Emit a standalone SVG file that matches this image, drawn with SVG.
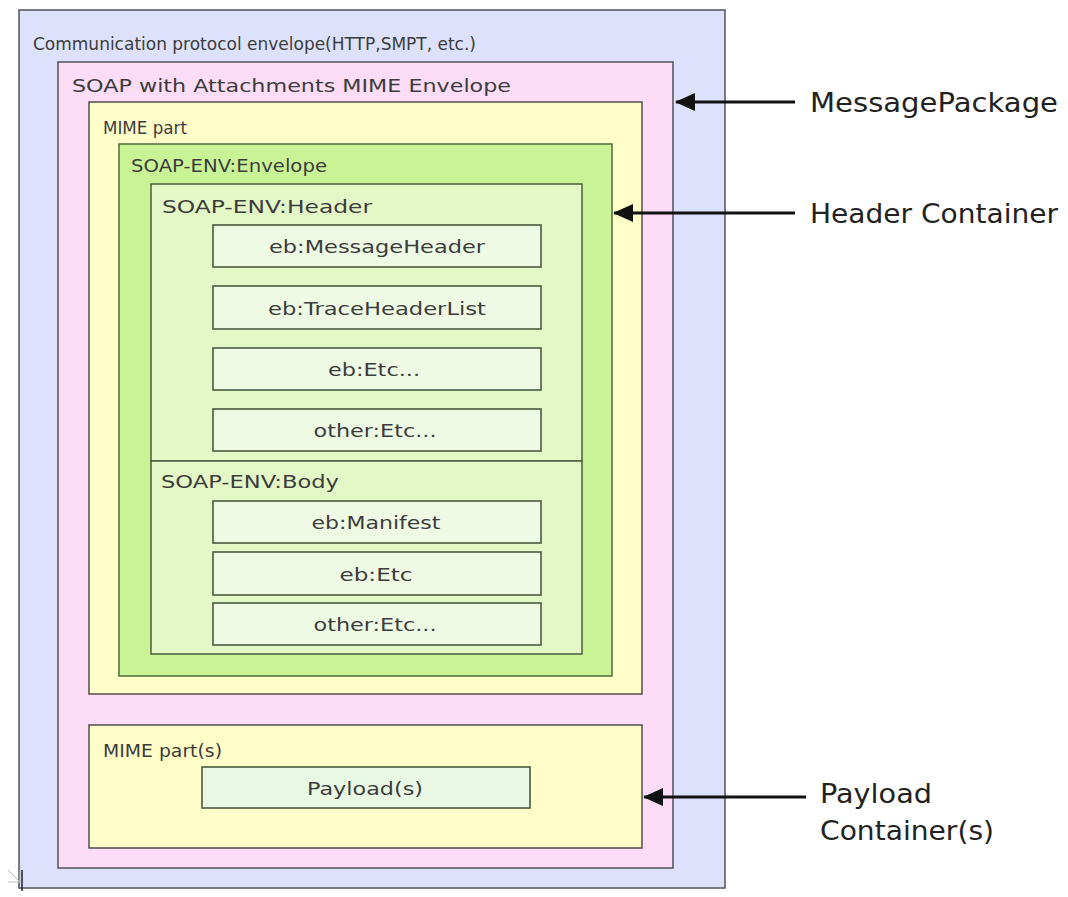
<svg xmlns="http://www.w3.org/2000/svg" width="1068" height="897" viewBox="0 0 1068 897">
<defs>
<style>
.lbl{font-family:"DejaVu Sans","Liberation Sans",sans-serif;font-size:18px;fill:#3c3c3c}
.ctr{text-anchor:middle}
.big{font-family:"DejaVu Sans","Liberation Sans",sans-serif;font-size:26px;fill:#222}
.box{stroke:#4d4d4d;stroke-width:1.5}
.item{fill:#eefae4;stroke:#4a5a40;stroke-width:1.6}
.arr{stroke:#111;stroke-width:3;fill:none}
</style>
<marker id="ah2" markerWidth="20" markerHeight="18" refX="19" refY="9" orient="auto" markerUnits="userSpaceOnUse" viewBox="0 0 20 18">
<path d="M0,0 L20,9 L0,18 Z" fill="#111"/>
</marker>
</defs>
<rect width="1068" height="897" fill="#ffffff"/>

<g id="comm-envelope">
<rect x="19" y="10" width="706" height="878" fill="#dde1fb" stroke="#505058" stroke-width="1.5"/>
<text class="lbl" x="33" y="50" textLength="443" lengthAdjust="spacingAndGlyphs">Communication protocol envelope(HTTP,SMPT, etc.)</text>
</g>

<g id="mime-envelope">
<rect x="58" y="62" width="615" height="806" fill="#fcdcf6" stroke="#55505a" stroke-width="1.5"/>
<text class="lbl" x="72" y="92" textLength="439" lengthAdjust="spacingAndGlyphs">SOAP with Attachments MIME Envelope</text>
</g>

<g id="mime-part">
<rect x="89" y="102" width="553" height="592" fill="#fffdc8" class="box"/>
<text class="lbl" x="103" y="134" textLength="84" lengthAdjust="spacingAndGlyphs">MIME part</text>
</g>

<g id="soap-envelope">
<rect x="119" y="144" width="493" height="532" fill="#c9f495" stroke="#4f6b3c" stroke-width="1.5"/>
<text class="lbl" x="131" y="172" textLength="196" lengthAdjust="spacingAndGlyphs">SOAP-ENV:Envelope</text>
</g>

<g id="soap-header">
<rect x="151" y="184" width="431" height="277" fill="#e3f8c6" stroke="#4a5e3c" stroke-width="1.5"/>
<text class="lbl" x="162" y="213" textLength="210" lengthAdjust="spacingAndGlyphs">SOAP-ENV:Header</text>
</g>

<g id="soap-body">
<rect x="151" y="461" width="431" height="193" fill="#e3f8c6" stroke="#4a5e3c" stroke-width="1.5"/>
<text class="lbl" x="161" y="488" textLength="178" lengthAdjust="spacingAndGlyphs">SOAP-ENV:Body</text>
</g>

<g id="message-header">
<rect x="213" y="225" width="328" height="42" class="item"/>
<text class="lbl ctr" x="377" y="253" textLength="216" lengthAdjust="spacingAndGlyphs">eb:MessageHeader</text>
</g>
<g id="trace-header-list">
<rect x="213" y="286" width="328" height="43" class="item"/>
<text class="lbl ctr" x="377" y="315" textLength="218" lengthAdjust="spacingAndGlyphs">eb:TraceHeaderList</text>
</g>
<g id="eb-etc-header">
<rect x="213" y="348" width="328" height="42" class="item"/>
<text class="lbl ctr" x="374" y="376" textLength="92" lengthAdjust="spacingAndGlyphs">eb:Etc...</text>
</g>
<g id="other-etc-header">
<rect x="213" y="409" width="328" height="42" class="item"/>
<text class="lbl ctr" x="375" y="437" textLength="123" lengthAdjust="spacingAndGlyphs">other:Etc...</text>
</g>

<g id="manifest">
<rect x="213" y="501" width="328" height="42" class="item"/>
<text class="lbl ctr" x="376" y="529" textLength="129" lengthAdjust="spacingAndGlyphs">eb:Manifest</text>
</g>
<g id="eb-etc-body">
<rect x="213" y="552" width="328" height="43" class="item"/>
<text class="lbl ctr" x="376" y="581" textLength="73" lengthAdjust="spacingAndGlyphs">eb:Etc</text>
</g>
<g id="other-etc-body">
<rect x="213" y="603" width="328" height="42" class="item"/>
<text class="lbl ctr" x="375" y="631" textLength="123" lengthAdjust="spacingAndGlyphs">other:Etc...</text>
</g>

<g id="mime-parts">
<rect x="89" y="725" width="553" height="123" fill="#fffdc8" class="box"/>
<text class="lbl" x="103" y="757" textLength="119" lengthAdjust="spacingAndGlyphs">MIME part(s)</text>
</g>
<g id="payloads">
<rect x="202" y="767" width="328" height="41" fill="#e8f8e2" stroke="#4a5a40" stroke-width="1.6"/>
<text class="lbl ctr" x="365" y="795" textLength="116" lengthAdjust="spacingAndGlyphs">Payload(s)</text>
</g>

<g id="connectors">
<line class="arr" x1="795" y1="102" x2="676" y2="102" marker-end="url(#ah2)"/>
<line class="arr" x1="795" y1="213" x2="614" y2="213" marker-end="url(#ah2)"/>
<line class="arr" x1="806" y1="797" x2="644" y2="797" marker-end="url(#ah2)"/>
</g>

<g id="labels">
<text class="big" x="810" y="112" textLength="248" lengthAdjust="spacingAndGlyphs">MessagePackage</text>
<text class="big" x="810" y="223" textLength="248" lengthAdjust="spacingAndGlyphs">Header Container</text>
<text class="big" x="820" y="803" textLength="112" lengthAdjust="spacingAndGlyphs">Payload</text>
<text class="big" x="820" y="840" textLength="174" lengthAdjust="spacingAndGlyphs">Container(s)</text>
</g>

<g id="corner-mark">
<path d="M8,870 L20,882 M8,882 L20,882 L20,870" fill="none" stroke="#bbbbbb" stroke-width="1"/>
<line x1="22" y1="870" x2="22" y2="891" stroke="#222" stroke-width="1.5"/>
</g>
</svg>
